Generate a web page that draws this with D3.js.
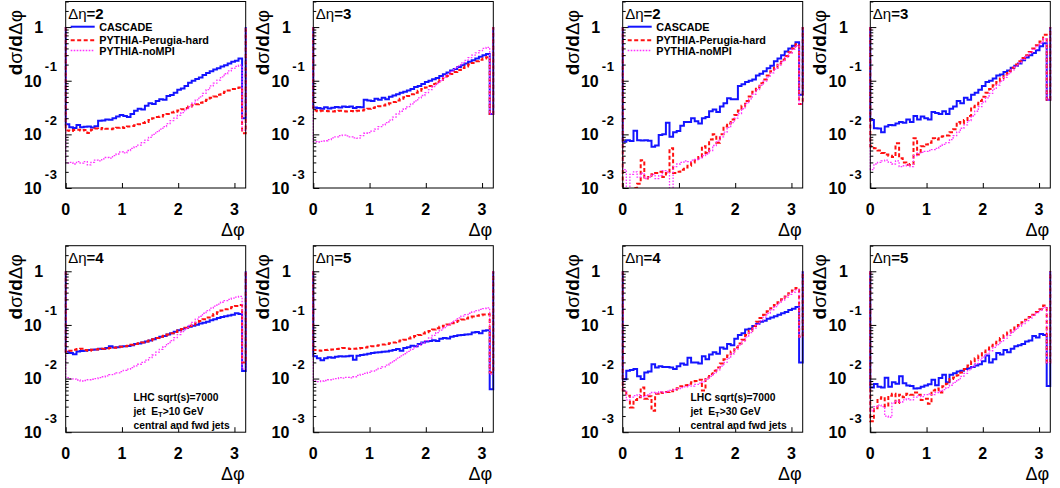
<!DOCTYPE html>
<html>
<head>
<meta charset="utf-8">
<script src="https://cdn.jsdelivr.net/npm/d3@7"></script>
<style>
html,body{margin:0;padding:0;background:#fff;}
svg{display:block;font-family:"Liberation Sans",Arial,Helvetica,sans-serif;}
text{white-space:pre;}
</style>
</head>
<body>
<svg id="chart" width="1060" height="488"></svg>
<script>
// ---------------- data ----------------
const seriesNames = ["CASCADE", "PYTHIA-Perugia-hard", "PYTHIA-noMPI"];
const detaLabels = ["2", "3", "4", "5"];
const xTickValues = [0, 1, 2, 3];
const yMajorExps = [0, -1, -2, -3];
const xDomain = [0, 3.2];
const yDomain = [0.001, 3];
const binWidth = 0.064;
const nBins = 50;
const edgeValue = 1;           // histogram outline closing level at x=0 and x=3.2
const noteET10 = ["LHC sqrt(s)=7000", "10", "central and fwd jets"];
const noteET30 = ["LHC sqrt(s)=7000", "30", "central and fwd jets"];

// ET > 10 GeV, delta-eta = 2
const et10_d2_cascade = [
0.0154,0.0135,0.0132,0.0150,0.0135,0.0138,0.0140,0.0134,0.0142,0.0180,
0.0182,0.0190,0.0188,0.0200,0.0215,0.0230,0.0220,0.0210,0.0240,0.0275,
0.0300,0.0290,0.0340,0.0380,0.0370,0.0420,0.0450,0.0440,0.0520,0.0540,
0.0600,0.0680,0.0720,0.0800,0.0920,0.1000,0.1080,0.1150,0.1280,0.1400,
0.1500,0.1620,0.1700,0.1850,0.1950,0.2100,0.2250,0.2350,0.2600,0.0200];
const et10_d2_perugia = [
0.0118,0.0115,0.0120,0.0122,0.0118,0.0121,0.0106,0.0122,0.0128,0.0125,
0.0132,0.0127,0.0125,0.0128,0.0133,0.0136,0.0132,0.0140,0.0143,0.0148,
0.0155,0.0163,0.0170,0.0185,0.0200,0.0210,0.0215,0.0230,0.0240,0.0255,
0.0265,0.0280,0.0295,0.0310,0.0330,0.0350,0.0365,0.0390,0.0420,0.0440,
0.0480,0.0510,0.0550,0.0590,0.0620,0.0660,0.0700,0.0730,0.0750,0.0105];
const et10_d2_nompi = [
0.0029,0.0030,0.0028,0.0031,0.0029,0.0031,0.0027,0.0030,0.0033,0.0032,
0.0035,0.0037,0.0036,0.0040,0.0043,0.0047,0.0045,0.0050,0.0055,0.0059,
0.0063,0.0070,0.0078,0.0088,0.0100,0.0112,0.0125,0.0140,0.0158,0.0180,
0.0200,0.0225,0.0255,0.0290,0.0330,0.0380,0.0440,0.0500,0.0580,0.0680,
0.0800,0.0900,0.1030,0.1180,0.1350,0.1520,0.1700,0.1850,0.1950,0.0120];

// ET > 10 GeV, delta-eta = 3
const et10_d3_cascade = [
0.0317,0.0310,0.0300,0.0320,0.0305,0.0315,0.0325,0.0318,0.0330,0.0322,
0.0332,0.0310,0.0325,0.0320,0.0440,0.0430,0.0420,0.0460,0.0440,0.0480,
0.0450,0.0500,0.0530,0.0560,0.0600,0.0620,0.0660,0.0700,0.0760,0.0800,
0.0870,0.0950,0.1000,0.1060,0.1130,0.1220,0.1320,0.1420,0.1550,0.1650,
0.1800,0.1950,0.2100,0.2250,0.2400,0.2600,0.2800,0.3000,0.3150,0.0240];
const et10_d3_perugia = [
0.0280,0.0270,0.0275,0.0272,0.0270,0.0268,0.0272,0.0275,0.0270,0.0268,
0.0272,0.0270,0.0275,0.0280,0.0290,0.0300,0.0310,0.0320,0.0335,0.0345,
0.0360,0.0380,0.0400,0.0430,0.0460,0.0490,0.0520,0.0560,0.0600,0.0650,
0.0700,0.0750,0.0800,0.0870,0.0950,0.1030,0.1120,0.1220,0.1330,0.1450,
0.1580,0.1720,0.1850,0.2000,0.2150,0.2300,0.2450,0.2600,0.2750,0.0240];
const et10_d3_nompi = [
0.0073,0.0072,0.0074,0.0076,0.0080,0.0086,0.0090,0.0095,0.0097,0.0094,
0.0090,0.0086,0.0085,0.0095,0.0105,0.0108,0.0115,0.0125,0.0140,0.0150,
0.0165,0.0185,0.0210,0.0240,0.0270,0.0300,0.0330,0.0370,0.0420,0.0480,
0.0530,0.0600,0.0680,0.0780,0.0880,0.1000,0.1150,0.1300,0.1500,0.1700,
0.1900,0.2150,0.2400,0.2700,0.3000,0.3300,0.3650,0.4000,0.4200,0.0240];

// ET > 10 GeV, delta-eta = 4
const et10_d4_cascade = [
0.0317,0.0300,0.0285,0.0320,0.0325,0.0330,0.0340,0.0345,0.0350,0.0360,
0.0355,0.0370,0.0400,0.0380,0.0385,0.0395,0.0400,0.0405,0.0420,0.0440,
0.0450,0.0470,0.0490,0.0510,0.0540,0.0570,0.0600,0.0620,0.0660,0.0700,
0.0750,0.0800,0.0830,0.0880,0.0920,0.0970,0.1010,0.1060,0.1100,0.1150,
0.1220,0.1280,0.1340,0.1400,0.1450,0.1500,0.1550,0.1650,0.1600,0.0138];
const et10_d4_perugia = [
0.0315,0.0330,0.0345,0.0355,0.0360,0.0340,0.0330,0.0345,0.0350,0.0355,
0.0360,0.0365,0.0370,0.0375,0.0380,0.0390,0.0400,0.0410,0.0425,0.0440,
0.0455,0.0470,0.0490,0.0510,0.0540,0.0570,0.0600,0.0630,0.0660,0.0700,
0.0740,0.0790,0.0840,0.0890,0.0950,0.1020,0.1100,0.1180,0.1280,0.1380,
0.1480,0.1600,0.1720,0.1850,0.1950,0.2050,0.2150,0.2250,0.2350,0.0200];
const et10_d4_nompi = [
0.0104,0.0100,0.0098,0.0094,0.0090,0.0092,0.0095,0.0097,0.0100,0.0104,
0.0108,0.0112,0.0118,0.0122,0.0128,0.0135,0.0142,0.0150,0.0160,0.0172,
0.0185,0.0200,0.0220,0.0245,0.0275,0.0310,0.0350,0.0395,0.0450,0.0510,
0.0580,0.0660,0.0750,0.0850,0.0980,0.1120,0.1280,0.1450,0.1650,0.1850,
0.2050,0.2250,0.2450,0.2650,0.2850,0.3000,0.3150,0.3300,0.3400,0.0150];

// ET > 10 GeV, delta-eta = 5
const et10_d5_cascade = [
0.0260,0.0240,0.0220,0.0240,0.0250,0.0245,0.0255,0.0260,0.0258,0.0262,
0.0265,0.0225,0.0265,0.0275,0.0280,0.0290,0.0300,0.0305,0.0310,0.0315,
0.0320,0.0330,0.0340,0.0355,0.0330,0.0370,0.0385,0.0410,0.0400,0.0440,
0.0470,0.0490,0.0500,0.0520,0.0500,0.0550,0.0570,0.0560,0.0600,0.0620,
0.0640,0.0650,0.0660,0.0670,0.0720,0.0740,0.0700,0.0780,0.0800,0.0063];
const et10_d5_perugia = [
0.0340,0.0335,0.0330,0.0340,0.0345,0.0350,0.0355,0.0360,0.0370,0.0365,
0.0355,0.0360,0.0365,0.0370,0.0380,0.0390,0.0400,0.0410,0.0420,0.0430,
0.0440,0.0455,0.0470,0.0490,0.0510,0.0530,0.0560,0.0590,0.0620,0.0650,
0.0690,0.0730,0.0770,0.0820,0.0870,0.0920,0.0970,0.1020,0.1080,0.1140,
0.1200,0.1260,0.1320,0.1380,0.1430,0.1480,0.1520,0.1560,0.1580,0.0130];
const et10_d5_nompi = [
0.0090,0.0088,0.0090,0.0092,0.0095,0.0098,0.0100,0.0104,0.0102,0.0105,
0.0103,0.0108,0.0115,0.0120,0.0125,0.0130,0.0138,0.0145,0.0155,0.0165,
0.0178,0.0195,0.0215,0.0240,0.0265,0.0290,0.0320,0.0350,0.0385,0.0420,
0.0460,0.0510,0.0570,0.0640,0.0720,0.0800,0.0890,0.0990,0.1100,0.1220,
0.1350,0.1460,0.1560,0.1650,0.1750,0.1850,0.1950,0.2020,0.2080,0.0120];

// ET > 30 GeV, delta-eta = 2
const et30_d2_cascade = [
0.0073,0.0078,0.0075,0.0117,0.0078,0.0077,0.0078,0.0076,0.0059,0.0062,
0.0097,0.0100,0.0165,0.0090,0.0110,0.0115,0.0145,0.0170,0.0170,0.0200,
0.0175,0.0160,0.0200,0.0210,0.0270,0.0290,0.0260,0.0330,0.0380,0.0470,
0.0450,0.0450,0.0800,0.0860,0.0950,0.1000,0.1050,0.1250,0.1350,0.1500,
0.1700,0.1900,0.2300,0.2600,0.3000,0.3500,0.4000,0.4500,0.5200,0.0550];
const et30_d2_perugia = [
0.0008,0.0009,0.0008,0.0010,0.0012,0.0033,0.0015,0.0016,0.0018,0.0019,
0.0020,0.0016,0.0019,0.0055,0.0019,0.0020,0.0022,0.0024,0.0026,0.0030,
0.0033,0.0038,0.0060,0.0045,0.0080,0.0100,0.0070,0.0100,0.0140,0.0160,
0.0190,0.0230,0.0280,0.0340,0.0420,0.0510,0.0620,0.0750,0.0900,0.1050,
0.1250,0.1500,0.1750,0.2100,0.2450,0.2900,0.3400,0.4000,0.4800,0.0370];
const et30_d2_nompi = [
0.0022,0.0009,0.0018,0.0020,0.0016,0.0019,0.0015,0.0016,0.0018,0.0015,
0.0017,0.0021,0.0020,0.0008,0.0025,0.0028,0.0030,0.0032,0.0031,0.0033,
0.0034,0.0036,0.0040,0.0043,0.0050,0.0062,0.0075,0.0090,0.0110,0.0135,
0.0165,0.0200,0.0245,0.0300,0.0380,0.0460,0.0560,0.0680,0.0820,0.0980,
0.1180,0.1400,0.1650,0.1950,0.2300,0.2750,0.3250,0.3850,0.4500,0.0370];

// ET > 30 GeV, delta-eta = 3
const et30_d3_cascade = [
0.0185,0.0130,0.0128,0.0110,0.0140,0.0150,0.0148,0.0160,0.0170,0.0165,
0.0190,0.0170,0.0220,0.0190,0.0215,0.0200,0.0190,0.0260,0.0250,0.0240,
0.0270,0.0240,0.0300,0.0330,0.0420,0.0380,0.0480,0.0440,0.0550,0.0600,
0.0680,0.0800,0.0950,0.1000,0.1100,0.1250,0.1300,0.1450,0.1550,0.1750,
0.1900,0.2100,0.2400,0.2700,0.3000,0.3300,0.3700,0.4400,0.5000,0.0440];
const et30_d3_perugia = [
0.0060,0.0055,0.0050,0.0045,0.0042,0.0040,0.0038,0.0068,0.0036,0.0030,
0.0027,0.0028,0.0085,0.0042,0.0060,0.0065,0.0070,0.0085,0.0080,0.0090,
0.0092,0.0095,0.0110,0.0125,0.0170,0.0160,0.0185,0.0220,0.0320,0.0360,
0.0420,0.0500,0.0600,0.0700,0.0820,0.0950,0.1100,0.1300,0.1500,0.1750,
0.2000,0.2300,0.2650,0.3000,0.3450,0.4000,0.4600,0.5400,0.7200,0.0440];
const et30_d3_nompi = [
0.0022,0.0028,0.0030,0.0032,0.0033,0.0030,0.0028,0.0032,0.0025,0.0026,
0.0027,0.0025,0.0040,0.0045,0.0046,0.0048,0.0050,0.0052,0.0055,0.0060,
0.0065,0.0070,0.0080,0.0095,0.0110,0.0130,0.0150,0.0180,0.0220,0.0270,
0.0330,0.0400,0.0480,0.0580,0.0700,0.0830,0.0980,0.1150,0.1350,0.1600,
0.1850,0.2150,0.2500,0.2900,0.3350,0.3850,0.4400,0.5000,0.6000,0.0440];

// ET > 30 GeV, delta-eta = 4
const et30_d4_cascade = [
0.0097,0.0140,0.0145,0.0150,0.0110,0.0098,0.0130,0.0135,0.0185,0.0160,
0.0170,0.0165,0.0165,0.0160,0.0150,0.0170,0.0190,0.0180,0.0245,0.0200,
0.0200,0.0190,0.0260,0.0230,0.0280,0.0310,0.0290,0.0380,0.0360,0.0440,
0.0420,0.0550,0.0650,0.0700,0.0820,0.0850,0.0950,0.1050,0.1150,0.1200,
0.1300,0.1380,0.1450,0.1550,0.1650,0.1750,0.1900,0.2000,0.2150,0.0200];
const et30_d4_perugia = [
0.0060,0.0048,0.0029,0.0040,0.0045,0.0068,0.0042,0.0047,0.0025,0.0052,
0.0055,0.0054,0.0056,0.0058,0.0062,0.0066,0.0072,0.0075,0.0080,0.0085,
0.0090,0.0095,0.0060,0.0105,0.0120,0.0140,0.0160,0.0190,0.0230,0.0270,
0.0320,0.0380,0.0450,0.0530,0.0650,0.0780,0.0950,0.1150,0.1350,0.1550,
0.1800,0.2050,0.2350,0.2650,0.3000,0.3400,0.3900,0.4400,0.4900,0.0600];
const et30_d4_nompi = [
0.0060,0.0040,0.0045,0.0048,0.0050,0.0046,0.0048,0.0052,0.0055,0.0053,
0.0057,0.0055,0.0058,0.0060,0.0062,0.0065,0.0068,0.0070,0.0075,0.0072,
0.0078,0.0082,0.0088,0.0098,0.0110,0.0125,0.0145,0.0170,0.0200,0.0240,
0.0290,0.0350,0.0420,0.0500,0.0600,0.0720,0.0860,0.1020,0.1200,0.1400,
0.1650,0.1920,0.2200,0.2550,0.2900,0.3300,0.3700,0.4100,0.4500,0.0600];

// ET > 30 GeV, delta-eta = 5
const et30_d5_cascade = [
0.0068,0.0079,0.0070,0.0068,0.0104,0.0070,0.0085,0.0080,0.0110,0.0082,
0.0074,0.0073,0.0065,0.0066,0.0070,0.0074,0.0078,0.0095,0.0075,0.0102,
0.0118,0.0085,0.0118,0.0125,0.0135,0.0140,0.0150,0.0155,0.0165,0.0175,
0.0185,0.0210,0.0270,0.0200,0.0230,0.0300,0.0280,0.0340,0.0310,0.0360,
0.0400,0.0420,0.0440,0.0490,0.0510,0.0620,0.0580,0.0680,0.0650,0.0073];
const et30_d5_perugia = [
0.0016,0.0028,0.0042,0.0045,0.0030,0.0048,0.0052,0.0035,0.0050,0.0045,
0.0052,0.0050,0.0055,0.0050,0.0040,0.0042,0.0034,0.0060,0.0065,0.0055,
0.0072,0.0080,0.0098,0.0105,0.0115,0.0130,0.0150,0.0175,0.0210,0.0240,
0.0270,0.0310,0.0350,0.0400,0.0450,0.0510,0.0570,0.0640,0.0720,0.0800,
0.0900,0.1000,0.1120,0.1250,0.1400,0.1550,0.1750,0.1950,0.2300,0.0200];
const et30_d5_nompi = [
0.0025,0.0030,0.0032,0.0030,0.0020,0.0019,0.0035,0.0038,0.0036,0.0040,
0.0042,0.0040,0.0045,0.0048,0.0046,0.0050,0.0052,0.0050,0.0055,0.0058,
0.0062,0.0068,0.0075,0.0085,0.0095,0.0110,0.0125,0.0145,0.0165,0.0190,
0.0220,0.0250,0.0285,0.0330,0.0380,0.0430,0.0490,0.0560,0.0640,0.0730,
0.0830,0.0940,0.1060,0.1200,0.1350,0.1520,0.1700,0.1900,0.2150,0.0200];

// ---------------- assembly ----------------
const groups = [
  { note: noteET10, panels: [
    [et10_d2_cascade, et10_d2_perugia, et10_d2_nompi],
    [et10_d3_cascade, et10_d3_perugia, et10_d3_nompi],
    [et10_d4_cascade, et10_d4_perugia, et10_d4_nompi],
    [et10_d5_cascade, et10_d5_perugia, et10_d5_nompi]] },
  { note: noteET30, panels: [
    [et30_d2_cascade, et30_d2_perugia, et30_d2_nompi],
    [et30_d3_cascade, et30_d3_perugia, et30_d3_nompi],
    [et30_d4_cascade, et30_d4_perugia, et30_d4_nompi],
    [et30_d5_cascade, et30_d5_perugia, et30_d5_nompi]] }
];
const binEdges = d3.range(nBins + 1).map(i => +(i * binWidth).toFixed(4));

// ---------------- layout & style ----------------
const FW = 180, FH = 186.5;
const groupX = [65.7, 622.7];
const colOff = [0, 247.6];
const rowY = [1.5, 245.7];
const lineStyles = [
  { color: "#1414ff", width: 2,   dash: null },
  { color: "#ff1010", width: 2,   dash: "4,2.5" },
  { color: "#ff30ff", width: 1.3, dash: "1.6,1.4" }
];
const FONT_BOLD = 700;

const svg = d3.select("#chart");
const defs = svg.append("defs");
let clipId = 0;

const minorVals = [];
for (let e = -3; e <= 0; e++) for (let m = 2; m <= 9; m++) {
  const v = m * Math.pow(10, e);
  if (v <= yDomain[1]) minorVals.push(v);
}
const majorVals = yMajorExps.map(e => Math.pow(10, e));

groups.forEach((grp, gi) => {
  grp.panels.forEach((series, pi) => {
    const row = Math.floor(pi / 2), col = pi % 2;
    const x0 = groupX[gi] + colOff[col], y0 = rowY[row];
    const x = d3.scaleLinear().domain(xDomain).range([x0, x0 + FW]);
    const y = d3.scaleLog().domain(yDomain).range([y0 + FH, y0]);
    const g = svg.append("g");

    // histograms (clipped to frame)
    const cid = "clip" + (clipId++);
    defs.append("clipPath").attr("id", cid).append("rect")
      .attr("x", x0 - 1.5).attr("y", y0).attr("width", FW + 3).attr("height", FH);
    const hg = g.append("g").attr("clip-path", `url(#${cid})`);
    const line = d3.line().x(d => x(d[0])).y(d => y(Math.max(d[1], 1e-4)));
    series.forEach((vals, si) => {
      const pts = [[binEdges[0], edgeValue]];
      vals.forEach((v, i) => { pts.push([binEdges[i], v], [binEdges[i + 1], v]); });
      pts.push([binEdges[nBins], edgeValue]);
      const st = lineStyles[si];
      hg.append("path").attr("d", line(pts))
        .attr("fill", "none").attr("stroke", st.color)
        .attr("stroke-width", st.width)
        .attr("stroke-dasharray", st.dash)
        .attr("stroke-linejoin", "miter");
    });

    // axes ticks (inside frame)
    const axG = g.append("g").attr("stroke-width", 1);
    axG.append("g").attr("transform", `translate(${x0},0)`)
      .call(d3.axisLeft(y).tickValues(majorVals).tickSize(-6).tickFormat(""))
      .call(s => s.select(".domain").remove());
    axG.append("g").attr("transform", `translate(${x0},0)`)
      .call(d3.axisLeft(y).tickValues(minorVals).tickSize(-3).tickFormat(""))
      .call(s => s.select(".domain").remove());
    axG.append("g").attr("transform", `translate(0,${y0 + FH})`)
      .call(d3.axisBottom(x).tickValues(xTickValues).tickSize(-5).tickFormat(""))
      .call(s => s.select(".domain").remove());
    axG.selectAll(".tick line").attr("stroke", "#000");

    // frame
    g.append("rect").attr("x", x0).attr("y", y0).attr("width", FW).attr("height", FH)
      .attr("fill", "none").attr("stroke", "#000").attr("stroke-width", 1);

    // x tick labels
    g.selectAll(".xl").data(xTickValues).enter().append("text")
      .attr("x", d => x(d)).attr("y", y0 + FH + 27)
      .attr("text-anchor", "middle").attr("font-size", 16).attr("font-weight", FONT_BOLD)
      .text(d => d);

    // y tick labels (log, ROOT style 10^{-n})
    yMajorExps.forEach(e => {
      const yy = y(Math.pow(10, e));
      if (e === 0) {
        g.append("text").attr("x", x0 - 22.5).attr("y", yy + 6)
          .attr("text-anchor", "end").attr("font-size", 16).attr("font-weight", FONT_BOLD).text("1");
      } else {
        g.append("text").attr("x", x0 - 24).attr("y", yy + 5.8)
          .attr("text-anchor", "end").attr("font-size", 16).attr("font-weight", FONT_BOLD).text("10");
        g.append("text").attr("x", x0 - 21).attr("y", yy - 9.5)
          .attr("text-anchor", "start").attr("font-size", 13).attr("font-weight", FONT_BOLD)
          .attr("letter-spacing", 0.8).text(String(e));
      }
    });

    // y title
    const yt = g.append("text")
      .attr("transform", `translate(${x0 - 44},${y0 + 8.5}) rotate(-90)`)
      .attr("text-anchor", "end").attr("font-size", 19).attr("font-weight", FONT_BOLD);
    yt.append("tspan").text("d");
    yt.append("tspan").attr("font-weight", 400).text("σ");
    yt.append("tspan").text("/d");
    yt.append("tspan").attr("font-weight", 400).text("Δφ");

    // x title
    g.append("text").attr("x", x0 + FW - 1).attr("y", y0 + FH + 48)
      .attr("text-anchor", "end").attr("font-size", 18).text("Δφ");

    // panel label
    const pl = g.append("text").attr("x", x0 + 2.5).attr("y", y0 + 17.5)
      .attr("font-size", 15).attr("font-weight", FONT_BOLD);
    pl.append("tspan").attr("font-weight", 400).text("Δη");
    pl.append("tspan").text("=" + detaLabels[pi]);

    // legend in first panel
    if (pi === 0) {
      const ly = [y0 + 25.2, y0 + 38.8, y0 + 49];
      seriesNames.forEach((nm, si) => {
        const st = lineStyles[si];
        g.append("line").attr("x1", x0 + 5).attr("x2", x0 + 29)
          .attr("y1", ly[si]).attr("y2", ly[si])
          .attr("stroke", st.color).attr("stroke-width", st.width)
          .attr("stroke-dasharray", st.dash);
        g.append("text").attr("x", x0 + 33.5).attr("y", ly[si] + 4)
          .attr("font-size", 10.8).attr("font-weight", FONT_BOLD).text(nm);
      });
    }

    // annotation in third panel
    if (pi === 2) {
      const nx = x0 + 67.8, nb = y0 + FH;
      const fs = 10.3;
      g.append("text").attr("x", nx).attr("y", nb - 31).attr("font-size", fs)
        .attr("font-weight", FONT_BOLD).text(grp.note[0]);
      const t2 = g.append("text").attr("x", nx).attr("y", nb - 17.5).attr("font-size", fs)
        .attr("font-weight", FONT_BOLD);
      t2.append("tspan").text("jet  E");
      t2.append("tspan").attr("font-size", 7.5).attr("dy", 2.5).text("T");
      t2.append("tspan").attr("dy", -2.5).text(">" + grp.note[1] + " GeV");
      g.append("text").attr("x", nx).attr("y", nb - 3.5).attr("font-size", fs)
        .attr("font-weight", FONT_BOLD).text(grp.note[2]);
    }
  });
});
</script>
</body>
</html>
